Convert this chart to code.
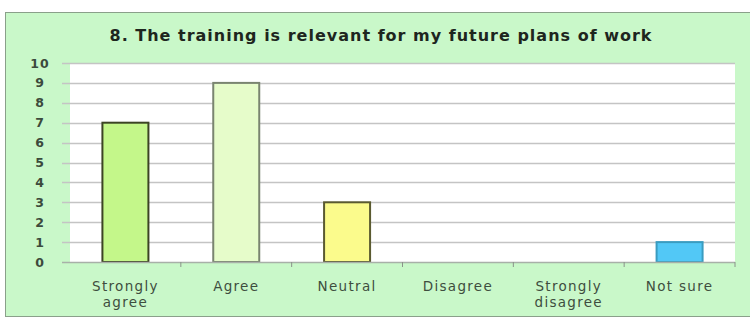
<!DOCTYPE html>
<html>
<head>
<meta charset="utf-8">
<script src="https://cdn.jsdelivr.net/npm/d3@7"></script>
<style>
  body { margin: 0; background: #fff; }
  svg { display: block; }
</style>
</head>
<body>
<script>
const title = "8. The training is relevant for my future plans of work";
const categories = ["Strongly agree", "Agree", "Neutral", "Disagree", "Strongly disagree", "Not sure"];
const labelLines = [["Strongly", "agree"], ["Agree"], ["Neutral"], ["Disagree"], ["Strongly", "disagree"], ["Not sure"]];
const values = [7, 9, 3, 0, 0, 1];
const yTicks = [0, 1, 2, 3, 4, 5, 6, 7, 8, 9, 10];
const fills = ["#c4f78a", "#e6fcca", "#fbfb8c", "#dddddd", "#dddddd", "#52c8f6"];
const strokes = ["#3c4424", "#7a8470", "#5a5a30", "#888", "#888", "#3a9cc0"];

const width = 750;
const height = 319;
const plot = { left: 70, right: 735, top: 63, bottom: 262 };

const svg = d3
  .select("body")
  .append("svg")
  .attr("width", width)
  .attr("height", height);

// chart box
svg
  .append("rect")
  .attr("x", 5.5)
  .attr("y", 12.5)
  .attr("width", 750)
  .attr("height", 304)
  .attr("fill", "#c9f8c9")
  .attr("stroke", "#8aa08a")
  .attr("stroke-width", 1);

svg
  .append("rect")
  .attr("x", plot.left)
  .attr("y", plot.top)
  .attr("width", plot.right - plot.left)
  .attr("height", plot.bottom - plot.top)
  .attr("fill", "#ffffff");

const xScale = d3
  .scaleBand()
  .domain(categories)
  .range([plot.left, plot.right])
  .paddingInner(0.585)
  .paddingOuter(0.2925);

const yScale = d3
  .scaleLinear()
  .domain([0, 10])
  .range([plot.bottom, plot.top]);

// gridlines
svg
  .append("g")
  .selectAll("line")
  .data(yTicks.filter((d) => d > 0))
  .enter()
  .append("line")
  .attr("x1", plot.left - 8)
  .attr("x2", plot.right)
  .attr("y1", (d) => Math.round(yScale(d)) + 0.5)
  .attr("y2", (d) => Math.round(yScale(d)) + 0.5)
  .attr("stroke", "#c4c4c4")
  .attr("stroke-width", 1.5);

// y labels
svg
  .append("g")
  .selectAll("text")
  .data(yTicks)
  .enter()
  .append("text")
  .attr("x", 40)
  .attr("y", (d) => yScale(d))
  .attr("text-anchor", "middle")
  .attr("dominant-baseline", "central")
  .attr("font-family", "DejaVu Sans")
  .attr("font-weight", "bold")
  .attr("font-size", 12.5)
  .attr("letter-spacing", 1)
  .attr("fill", "#3c4a3c")
  .text((d) => d);

// bars
const barData = categories
  .map((c, i) => ({ cat: c, value: values[i], fill: fills[i], stroke: strokes[i] }))
  .filter((d) => d.value > 0);

svg
  .append("g")
  .selectAll("rect")
  .data(barData)
  .enter()
  .append("rect")
  .attr("x", (d) => xScale(d.cat))
  .attr("y", (d) => yScale(d.value))
  .attr("width", xScale.bandwidth())
  .attr("height", (d) => yScale(0) - yScale(d.value))
  .attr("fill", (d) => d.fill)
  .attr("stroke", (d) => d.stroke)
  .attr("stroke-width", 2);

// x axis
const step = xScale.step();
const axis = svg.append("g");
axis
  .append("line")
  .attr("x1", plot.left - 8)
  .attr("x2", plot.right)
  .attr("y1", plot.bottom + 0.5)
  .attr("y2", plot.bottom + 0.5)
  .attr("stroke", "#a8b0a8")
  .attr("stroke-width", 1.5);

axis
  .selectAll("line.tick")
  .data(d3.range(1, categories.length + 1))
  .enter()
  .append("line")
  .attr("class", "tick")
  .attr("x1", (i) => plot.left + i * step)
  .attr("x2", (i) => plot.left + i * step)
  .attr("y1", plot.bottom)
  .attr("y2", plot.bottom + 5)
  .attr("stroke", "#8a928a")
  .attr("stroke-width", 1);

const labels = axis
  .selectAll("text")
  .data(categories)
  .enter()
  .append("text")
  .attr("x", (d) => xScale(d) + xScale.bandwidth() / 2)
  .attr("y", 291)
  .attr("text-anchor", "middle")
  .attr("font-family", "DejaVu Sans")
  .attr("font-size", 13.5)
  .attr("letter-spacing", 1.3)
  .attr("fill", "#3e4e3e");

labels
  .selectAll("tspan")
  .data((d, i) => labelLines[i])
  .enter()
  .append("tspan")
  .attr("x", function () {
    return this.parentNode.getAttribute("x");
  })
  .attr("dy", (d, i) => (i === 0 ? 0 : 16))
  .text((d) => d);

// title
svg
  .append("text")
  .attr("x", 381)
  .attr("y", 41)
  .attr("text-anchor", "middle")
  .attr("font-family", "DejaVu Sans")
  .attr("font-weight", "bold")
  .attr("font-size", 16)
  .attr("letter-spacing", 1)
  .attr("fill", "#1e261e")
  .text(title);
</script>
</body>
</html>
